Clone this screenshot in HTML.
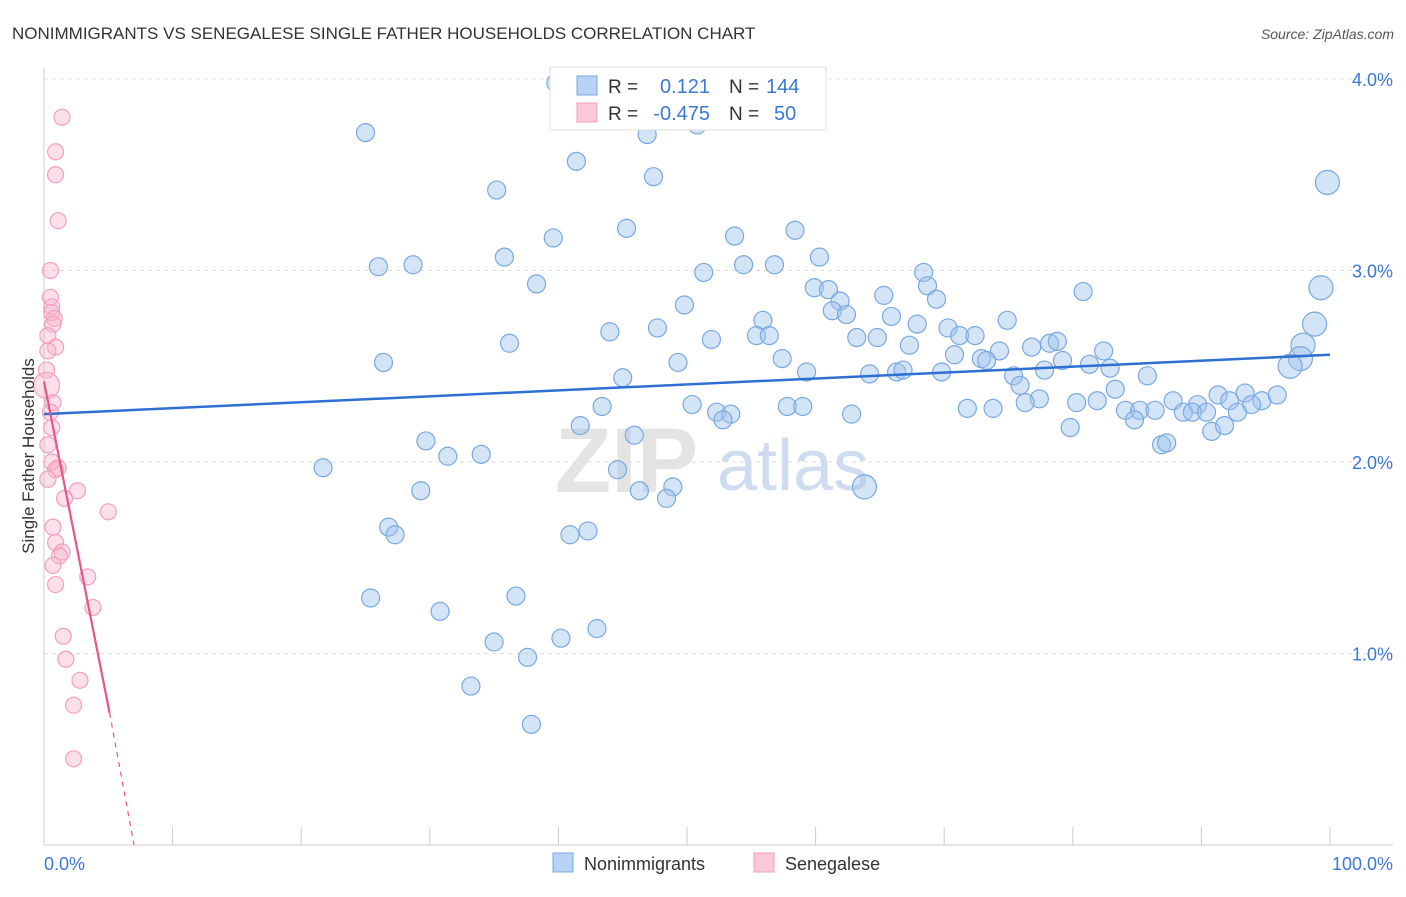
<!DOCTYPE html>
<html><head><meta charset="utf-8">
<style>
body{margin:0;background:#fff;font-family:"Liberation Sans",sans-serif;}
svg text{font-family:"Liberation Sans",sans-serif;}
</style></head>
<body>
<svg id="chart" width="1406" height="892" xmlns="http://www.w3.org/2000/svg">
<text x="12" y="39" font-size="17" fill="#333">NONIMMIGRANTS VS SENEGALESE SINGLE FATHER HOUSEHOLDS CORRELATION CHART</text>
<text x="1394" y="39" font-size="14" fill="#555" font-style="italic" text-anchor="end">Source: ZipAtlas.com</text>
<g>
<text x="555" y="492" font-size="92" font-family="Liberation Serif" fill="#e4e4e4" font-weight="bold">ZIP</text>
<text x="717" y="490" font-size="72" fill="#cfdcef">atlas</text>
</g>
<g id="grid"></g>
<g id="axes"></g>
<g id="pink"></g>
<g id="blue"></g>
<g id="trends"></g>
<text transform="translate(34,456) rotate(-90)" font-size="17" fill="#333" text-anchor="middle">Single Father Households</text>
<g>
<rect x="550" y="67" width="276" height="63" fill="#fff" stroke="#ddd"/>
<rect x="577" y="76" width="20" height="19" fill="#b7d2f4" stroke="#7aa8e0"/>
<rect x="577" y="103" width="20" height="19" fill="#fac8d6" stroke="#f2a0bb"/>
<text x="608" y="93" font-size="19" fill="#333">R = </text>
<text x="710" y="93" font-size="20" fill="#3b78d8" text-anchor="end">0.121</text>
<text x="729" y="93" font-size="19" fill="#333">N = </text>
<text x="766" y="93" font-size="20" fill="#3b78d8">144</text>
<text x="608" y="120" font-size="19" fill="#333">R = </text>
<text x="710" y="120" font-size="20" fill="#3b78d8" text-anchor="end">-0.475</text>
<text x="729" y="120" font-size="19" fill="#333">N = </text>
<text x="774" y="120" font-size="20" fill="#3b78d8">50</text>
</g>
<g>
<rect x="553" y="853" width="20" height="19" fill="#b7d2f4" stroke="#7aa8e0"/>
<text x="584" y="870" font-size="18" fill="#333">Nonimmigrants</text>
<rect x="754" y="853" width="20" height="19" fill="#fac8d6" stroke="#f2a0bb"/>
<text x="785" y="870" font-size="18" fill="#333">Senegalese</text>
</g>
</svg>
<script>
const xTicks=[0,10,20,30,40,50,60,70,80,90,100];
const yTicks=[1,2,3,4];
const yTickLabels=["1.0%","2.0%","3.0%","4.0%"];
const blueX=[39.8,50.8,46.9,25.0,41.4,47.4,35.2,99.8,45.3,58.4,53.7,39.6,35.8,26.0,28.7,54.4,56.8,60.3,51.3,68.4,38.3,68.7,59.9,61.0,65.3,80.8,99.3,49.8,61.9,69.4,61.3,62.4,65.9,55.9,74.9,98.8,47.7,44.0,67.9,70.3,71.2,72.4,55.4,56.4,51.9,63.2,64.8,36.2,67.3,76.8,78.2,78.8,82.4,70.8,74.3,97.9,72.9,73.3,79.2,81.3,82.9,26.4,49.3,57.4,97.7,96.9,59.3,64.2,66.3,66.8,69.8,75.4,77.8,85.8,45.0,75.9,83.3,87.8,89.7,91.3,92.2,93.4,94.7,95.9,93.9,77.4,76.3,80.3,81.9,43.4,50.4,57.8,59.0,71.8,73.8,52.3,53.4,62.8,84.1,85.2,86.4,88.6,89.3,90.4,92.8,84.8,52.8,41.7,79.8,90.8,91.8,29.7,45.9,31.4,34.0,86.9,87.3,21.7,44.6,29.3,46.3,48.9,63.8,48.4,26.8,27.3,40.9,42.3,25.4,36.7,30.8,43.0,40.2,35.0,37.6,33.2,37.9];
const blueY=[3.98,3.76,3.71,3.72,3.57,3.49,3.42,3.46,3.22,3.21,3.18,3.17,3.07,3.02,3.03,3.03,3.03,3.07,2.99,2.99,2.93,2.92,2.91,2.90,2.87,2.89,2.91,2.82,2.84,2.85,2.79,2.77,2.76,2.74,2.74,2.72,2.70,2.68,2.72,2.70,2.66,2.66,2.66,2.66,2.64,2.65,2.65,2.62,2.61,2.60,2.62,2.63,2.58,2.56,2.58,2.61,2.54,2.53,2.53,2.51,2.49,2.52,2.52,2.54,2.54,2.50,2.47,2.46,2.47,2.48,2.47,2.45,2.48,2.45,2.44,2.40,2.38,2.32,2.30,2.35,2.32,2.36,2.32,2.35,2.30,2.33,2.31,2.31,2.32,2.29,2.30,2.29,2.29,2.28,2.28,2.26,2.25,2.25,2.27,2.27,2.27,2.26,2.26,2.26,2.26,2.22,2.22,2.19,2.18,2.16,2.19,2.11,2.14,2.03,2.04,2.09,2.10,1.97,1.96,1.85,1.85,1.87,1.87,1.81,1.66,1.62,1.62,1.64,1.29,1.30,1.22,1.13,1.08,1.06,0.98,0.83,0.63];
const blueBig=[99.8,99.3,98.8,97.9,97.7,96.9,63.8];
const pinkX=[1.4,0.9,0.9,1.1,0.5,0.5,0.6,0.6,0.8,0.7,0.3,0.9,0.3,0.2,0.2,0.7,0.5,0.6,0.3,0.6,1.1,0.9,0.3,2.6,1.6,5.0,0.7,0.9,1.4,1.2,0.7,0.9,3.4,3.8,1.5,1.7,2.8,2.3,2.3];
const pinkY=[3.80,3.62,3.50,3.26,3.00,2.86,2.81,2.78,2.75,2.72,2.66,2.60,2.58,2.48,2.40,2.31,2.26,2.18,2.09,2.00,1.97,1.96,1.91,1.85,1.81,1.74,1.66,1.58,1.53,1.51,1.46,1.36,1.40,1.24,1.09,0.97,0.86,0.73,0.45];
const blueTrend=[[0,2.25],[100,2.56]];
const pinkTrend=[[0,2.42],[5.1,0.69],[7.0,0]];

const X0=44,X1=1330,Y0=845,PY=191.5;
const sx=v=>X0+(X1-X0)*v/100;
const sy=v=>Y0-v*PY;
const NS="http://www.w3.org/2000/svg";
function mk(tag,attrs,parent){const e=document.createElementNS(NS,tag);for(const k in attrs)e.setAttribute(k,attrs[k]);parent.appendChild(e);return e;}
const grid=document.getElementById('grid'),axes=document.getElementById('axes');
yTicks.forEach((t,i)=>{
  const l=mk('line',{x1:X0,x2:1393,y1:sy(t),y2:sy(t),stroke:'#ddd','stroke-dasharray':'4,4'},grid);
  
  
  const tx=mk('text',{x:1393,y:sy(t)+7,'font-size':18,fill:'#3b78d8','text-anchor':'end'},axes);
  tx.textContent=yTickLabels[i];
  
  
});
mk('line',{x1:X0,x2:X0,y1:68,y2:Y0,stroke:'#ccc'},axes);
mk('line',{x1:X0,x2:1393,y1:Y0,y2:Y0,stroke:'#ccc'},axes);
xTicks.forEach(t=>{
  const l=mk('line',{x1:sx(t),x2:sx(t),y1:Y0,y2:Y0-18,stroke:'#ccc'},axes);
  
  
});
const xl=mk('text',{x:44,y:870,'font-size':18,fill:'#3b78d8'},axes);xl.textContent='0.0%';


const xr=mk('text',{x:1393,y:870,'font-size':18,fill:'#3b78d8','text-anchor':'end'},axes);xr.textContent='100.0%';


const pg=document.getElementById('pink');
pinkX.forEach((v,i)=>{
  const c=mk('circle',{cx:sx(v),cy:sy(pinkY[i]),r:(i==14?13:8),fill:'rgba(247,178,200,0.4)',stroke:'#f2a0bb','stroke-width':1.2},pg);
  
  
});
const bg=document.getElementById('blue');
blueX.forEach((v,i)=>{
  const big=blueBig.includes(v);
  const c=mk('circle',{cx:sx(v),cy:sy(blueY[i]),r:big?12:9,fill:'rgba(160,195,238,0.45)',stroke:'#7aa8e0','stroke-width':1.2},bg);
  
  
});
const tg=document.getElementById('trends');
const bl=mk('line',{x1:sx(blueTrend[0][0]),y1:sy(blueTrend[0][1]),x2:sx(blueTrend[1][0]),y2:sy(blueTrend[1][1]),stroke:'#2d6fd2','stroke-width':2.5},tg);


const pl=mk('line',{x1:sx(pinkTrend[0][0]),y1:sy(pinkTrend[0][1]),x2:sx(pinkTrend[1][0]),y2:sy(pinkTrend[1][1]),stroke:'#e8558a','stroke-width':2.2},tg);


const pd=mk('line',{x1:sx(pinkTrend[1][0]),y1:sy(pinkTrend[1][1]),x2:sx(pinkTrend[2][0]),y2:sy(pinkTrend[2][1]),stroke:'#e8558a','stroke-width':1.2,'stroke-dasharray':'5,5'},tg);


</script>
</body></html>
